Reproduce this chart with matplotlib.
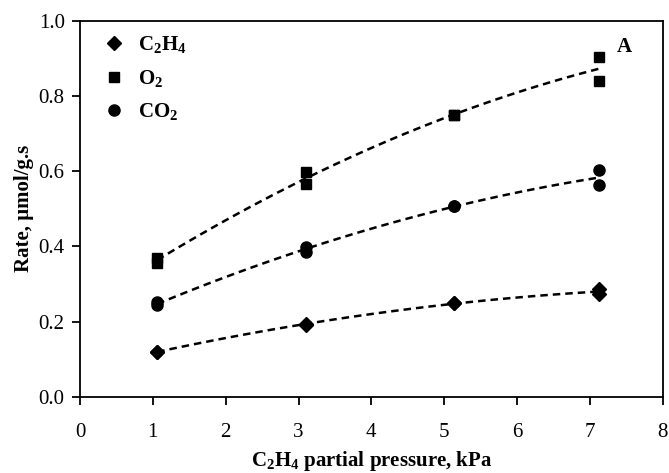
import numpy as np
import matplotlib
matplotlib.use("Agg")
import matplotlib.pyplot as plt

plt.rcParams['font.family'] = ['Liberation Serif', 'DejaVu Serif']
plt.rcParams['mathtext.fontset'] = 'custom'
plt.rcParams['mathtext.rm'] = 'Liberation Serif'
plt.rcParams['mathtext.bf'] = 'Liberation Serif:bold'

# measured points (two runs at each pressure)
p = [1.06, 1.06, 3.1, 3.1, 5.13, 5.13, 7.12, 7.12]
c2h4 = [0.12, 0.12, 0.195, 0.19, 0.249, 0.249, 0.286, 0.273]
o2 = [0.37, 0.357, 0.598, 0.565, 0.75, 0.75, 0.905, 0.84]
co2 = [0.252, 0.243, 0.398, 0.386, 0.507, 0.507, 0.602, 0.563]

series = [
    (c2h4, 'D', r'$\mathbf{C_2H_4}$', 7),
    (o2, 's', r'$\mathbf{O_2}$', 7.5),
    (co2, 'o', r'$\mathbf{CO_2}$', 8),
]

fig = plt.figure(figsize=(6.69, 4.73), dpi=100)
ax = fig.add_axes([0.1196, 0.161, 0.871, 0.795])

xs = np.linspace(min(p), max(p), 100)
for vals, mk, lab, ms in series:
    ax.plot(p, vals, linestyle='none', marker=mk, color='black', markersize=ms, label=lab)
    cf = np.polyfit(p, vals, 2)
    ax.plot(xs, np.polyval(cf, xs), color='black', linestyle=(0, (3, 2)), linewidth=1.8)

ax.set_xlim(0, 8)
ax.set_ylim(0, 1.0)
ax.set_xticks(range(0, 9))
ax.set_yticks(np.arange(0, 1.01, 0.2))
ax.set_yticklabels(['%.1f' % v for v in np.arange(0, 1.01, 0.2)])
ax.tick_params(direction='out', length=6, width=1.3, labelsize=15)
ax.tick_params(axis='x', pad=13)
ax.tick_params(axis='y', pad=5)
for s in ax.spines.values():
    s.set_linewidth(1.3)

ax.set_xlabel(r'$\mathbf{C_2H_4}$ partial pressure, kPa', fontsize=15, fontweight='bold', labelpad=5)
ax.set_ylabel('Rate, µmol/g.s', fontsize=15, fontweight='bold', labelpad=3)

ax.text(7.37, 0.917, 'A', fontsize=15, fontweight='bold')

leg = ax.legend(loc='upper left', bbox_to_anchor=(0.014, 1.0), frameon=False, fontsize=15,
                handletextpad=0.55, labelspacing=0.6, borderaxespad=0.25, handlelength=1.2)

fig.savefig('out.png', dpi=100)
